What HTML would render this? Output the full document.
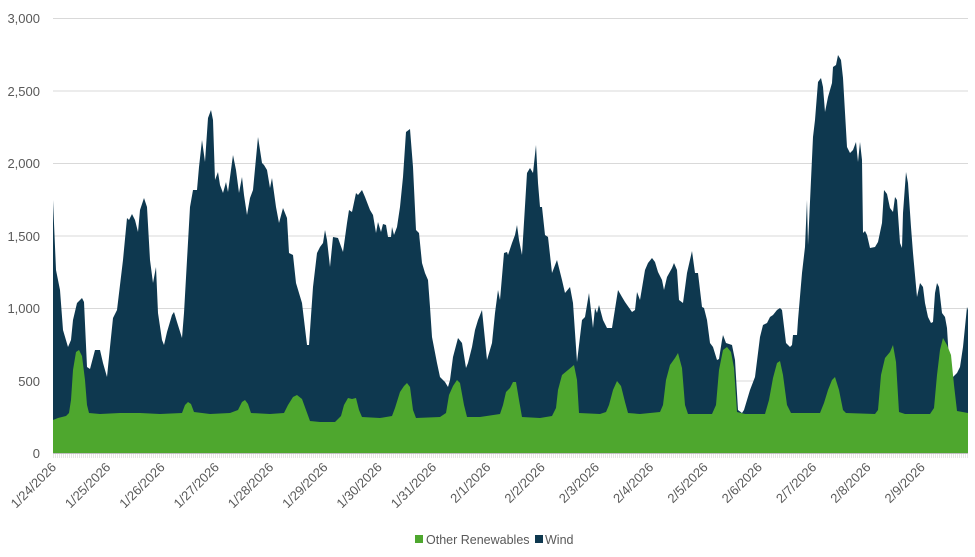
<!DOCTYPE html>
<html><head><meta charset="utf-8"><style>
body{margin:0;background:#fff;}
svg{display:block;font-family:"Liberation Sans",sans-serif;}
</style></head><body>
<svg width="975" height="557" viewBox="0 0 975 557">
<g stroke="#d9d9d9" stroke-width="1">
<line x1="53" x2="968" y1="18.5" y2="18.5"/>
<line x1="53" x2="968" y1="91" y2="91"/>
<line x1="53" x2="968" y1="163.5" y2="163.5"/>
<line x1="53" x2="968" y1="236" y2="236"/>
<line x1="53" x2="968" y1="308.5" y2="308.5"/>
<line x1="53" x2="968" y1="381" y2="381"/>
</g>
<g fill="#595959" font-size="13" text-anchor="end">
<text x="40" y="23">3,000</text>
<text x="40" y="96">2,500</text>
<text x="40" y="168">2,000</text>
<text x="40" y="241">1,500</text>
<text x="40" y="313">1,000</text>
<text x="40" y="386">500</text>
<text x="40" y="458">0</text>
</g>
<polygon fill="#0e384f" points="53,453 53,200 56,270 60,290 63,330 68,347 71,340 73,320 77,303 82,298 84,302 87,367 90,369 95,350 100,350 103,363 107,377 110,347 113,318 117,310 120,285 123,260 127,218 129,220 132,214 135,220 138,232 140,210 144,198 147,207 150,260 153,283 156,267 158,313 162,340 164,345 167,332 172,315 174,312 177,322 182,338 184,313 187,260 190,207 193,190 197,190 199,167 202,140 205,162 208,118 211,110 213,120 215,180 218,172 220,185 223,193 226,182 228,192 233,155 236,170 239,193 242,177 244,195 247,215 250,198 253,190 258,137 262,163 264,165 267,170 270,188 272,178 276,207 279,223 283,208 287,218 289,253 293,255 296,283 302,303 307,345 309,345 313,287 317,253 320,247 323,243 325,230 327,240 330,267 333,237 338,238 343,252 347,223 349,210 352,212 356,193 358,195 362,190 365,197 370,210 373,215 376,233 378,222 381,232 383,224 386,225 388,237 391,237 392,227 394,235 397,227 400,207 403,177 406,132 410,129 413,167 416,230 419,233 422,263 425,273 428,280 430,307 432,337 437,363 440,377 445,382 448,387 450,380 453,357 458,338 462,343 466,368 468,363 472,347 475,330 478,320 482,310 483,320 487,360 492,343 495,313 498,290 500,300 504,253 507,252 508,255 512,243 515,235 517,225 519,240 522,255 527,173 530,168 533,173 536,145 538,183 540,207 542,207 545,235 548,237 552,273 557,260 562,280 565,293 570,287 573,303 577,362 582,320 585,317 589,293 593,328 595,308 597,313 599,305 603,320 607,328 612,328 618,290 622,297 625,302 632,312 635,310 637,292 640,300 645,270 648,263 652,258 655,262 658,272 662,280 664,290 667,277 672,268 674,263 677,270 679,300 683,303 687,273 692,251 695,273 698,273 702,307 704,308 707,320 710,343 713,347 717,360 719,359 722,340 723,335 726,343 732,345 735,360 738,410 742,413 744,410 750,390 755,377 760,337 763,325 767,323 770,317 773,315 777,310 780,308 782,310 786,343 790,347 792,345 793,335 797,335 798,320 802,273 805,247 807,200 808,245 811,180 813,137 815,120 818,82 821,78 823,87 825,112 828,97 832,83 833,67 836,65 838,55 841,60 843,78 847,147 850,153 853,150 856,142 858,162 860,142 862,160 863,233 865,231 867,235 870,248 875,247 878,242 882,223 884,190 887,194 890,208 893,212 895,197 897,200 900,243 902,248 903,213 906,172 908,183 911,227 913,253 917,297 920,283 923,287 925,303 928,317 931,323 933,322 935,293 937,283 939,287 942,313 945,317 947,328 949,360 953,377 957,373 960,367 963,347 966,317 967,307 968,310 968,453"/>
<polygon fill="#4ea72e" points="53,453 53,420 58,418 66,416 69,413 71,400 73,370 76,352 79,350 82,356 85,380 87,405 89,413 100,414 120,413 140,413 160,414 182,413 185,405 188,402 191,404 194,412 210,414 230,413 238,410 242,402 245,400 248,404 251,413 270,414 284,413 288,405 293,397 297,395 302,399 306,410 310,421 320,422 335,422 341,416 344,405 348,398 352,399 356,398 359,410 362,417 380,418 392,416 395,408 400,392 404,386 407,383 410,387 413,410 416,418 440,417 446,413 449,395 453,386 457,380 460,383 464,405 467,417 480,417 500,414 503,405 506,392 510,388 513,382 516,382 519,400 522,417 540,418 552,416 556,408 558,390 562,375 568,370 574,365 577,380 579,413 600,414 606,412 609,405 613,390 617,381 621,386 625,402 628,413 640,414 660,412 663,405 666,380 670,365 675,358 678,353 682,368 685,405 688,414 712,414 716,405 719,370 723,350 727,347 731,352 734,368 737,412 745,414 765,414 769,400 773,378 777,363 780,361 783,375 787,405 791,413 810,413 820,413 824,403 828,390 832,380 835,377 839,390 843,410 846,413 875,414 878,410 881,375 885,358 890,352 893,345 896,362 899,412 905,414 930,414 934,408 937,375 940,350 943,338 947,345 951,355 954,385 957,411 968,413 968,453"/>
<line x1="53" x2="968" y1="453.5" y2="453.5" stroke="#bfbfbf" stroke-width="1"/>
<line x1="53" x2="968" y1="456" y2="456" stroke="#e6e6e6" stroke-width="4" stroke-dasharray="1,1"/>
<g fill="#595959" font-size="13" text-anchor="end">
<text transform="translate(57,468) rotate(-45)">1/24/2026</text>
<text transform="translate(111.3,468) rotate(-45)">1/25/2026</text>
<text transform="translate(165.6,468) rotate(-45)">1/26/2026</text>
<text transform="translate(219.9,468) rotate(-45)">1/27/2026</text>
<text transform="translate(274.2,468) rotate(-45)">1/28/2026</text>
<text transform="translate(328.5,468) rotate(-45)">1/29/2026</text>
<text transform="translate(382.8,468) rotate(-45)">1/30/2026</text>
<text transform="translate(437.1,468) rotate(-45)">1/31/2026</text>
<text transform="translate(491.4,468) rotate(-45)">2/1/2026</text>
<text transform="translate(545.7,468) rotate(-45)">2/2/2026</text>
<text transform="translate(600,468) rotate(-45)">2/3/2026</text>
<text transform="translate(654.3,468) rotate(-45)">2/4/2026</text>
<text transform="translate(708.6,468) rotate(-45)">2/5/2026</text>
<text transform="translate(762.9,468) rotate(-45)">2/6/2026</text>
<text transform="translate(817.2,468) rotate(-45)">2/7/2026</text>
<text transform="translate(871.5,468) rotate(-45)">2/8/2026</text>
<text transform="translate(925.8,468) rotate(-45)">2/9/2026</text>
</g>
<rect x="415" y="535" width="8" height="8" fill="#4ea72e"/>
<text x="426" y="544" fill="#595959" font-size="12.5">Other Renewables</text>
<rect x="535" y="535" width="8" height="8" fill="#0e384f"/>
<text x="545" y="544" fill="#595959" font-size="12.5">Wind</text>
</svg>
</body></html>
